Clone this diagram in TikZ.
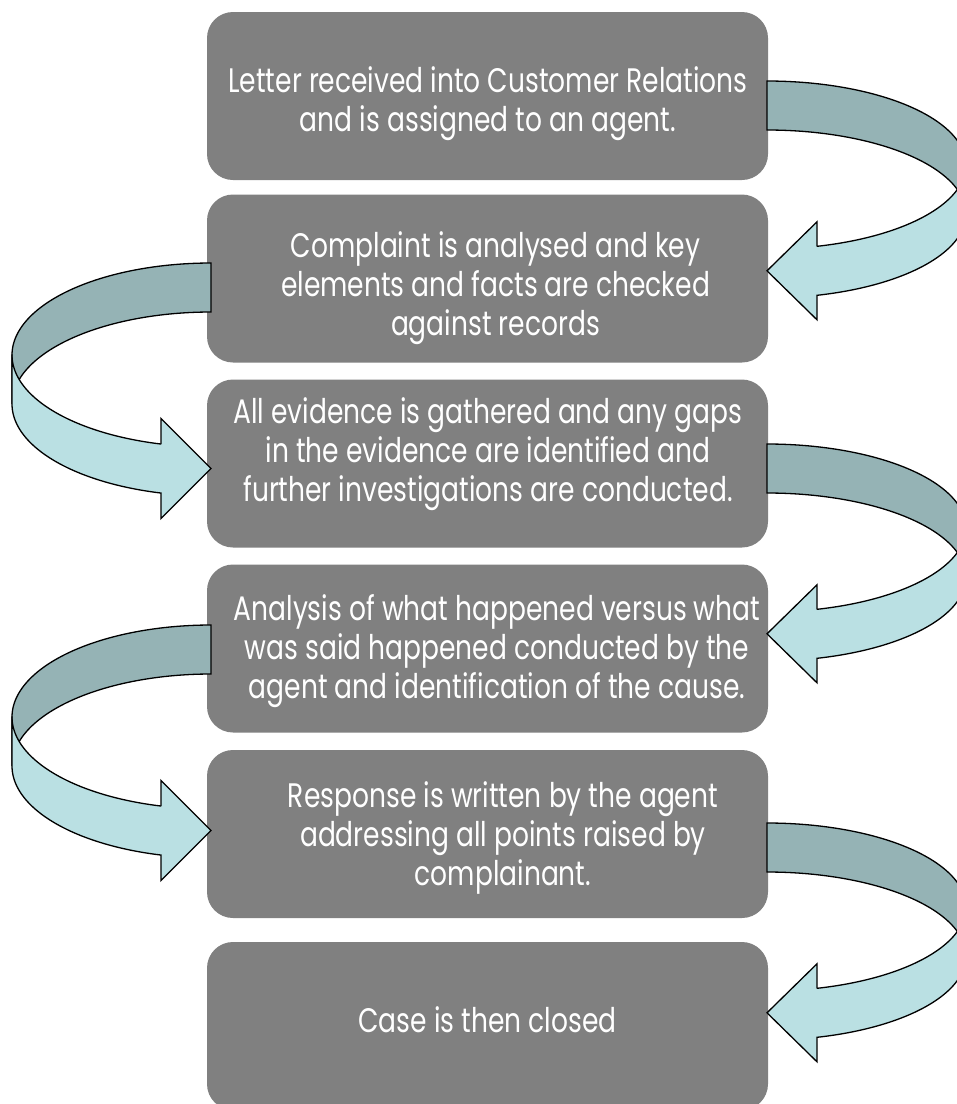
\documentclass[tikz,border=0pt]{standalone}
\usepackage{fontspec}
\setmainfont{Poppins}[FakeStretch=0.78]
\definecolor{boxgray}{HTML}{808080}
\definecolor{banddark}{HTML}{95B3B5}
\definecolor{bandlight}{HTML}{BAE0E3}
\tikzset{
  stepbox/.style={fill=boxgray, rounded corners=26pt, minimum width=561pt, minimum height=168pt, inner sep=0pt, draw=none},
  steptext/.style={text=white, align=center, font=\fontsize{34}{39}\selectfont, inner sep=0pt},
  bandback/.style={draw=black, line width=1.3pt, fill=banddark},
  bandfront/.style={draw=black, line width=1.3pt, fill=bandlight},
}
% #1 cx, #2 cy, #3 direction (1 = bulge right, -1 = bulge left), #4 vertical radius, #5 half head height
\newcommand\CurvedBand[5]{%
  \pgfmathsetmacro\Hh{#4*sin(acos(50/199))}%
  \begin{scope}[shift={(#1,#2)}, xscale=#3]
    \path[bandback] plot[domain=-90:0,samples=60] ({199*cos(\x)},{#4*sin(\x)})
      -- (199,49) -- plot[domain=0:-90,samples=60] ({199*cos(\x)},{49+#4*sin(\x)}) -- cycle;
    \path[bandfront] (199,0) -- (199,49)
      -- plot[domain=0:75.45,samples=60] ({199*cos(\x)},{49+#4*sin(\x)})
      -- (50,{24.5+\Hh+#5}) -- (0,{24.5+\Hh}) -- (50,{24.5+\Hh-#5}) -- (50,\Hh)
      -- plot[domain=75.45:0,samples=60] ({199*cos(\x)},{#4*sin(\x)}) -- cycle;
  \end{scope}}
\begin{document}
\begin{tikzpicture}[x=1pt,y=-1pt]
\useasboundingbox (0,0) rectangle (957,1104);
\clip (0,0) rectangle (957,1104);
\fill[white] (0,0) rectangle (957,1104);
% boxes
\node[stepbox] (b1) at (487.5,96) {};
\node[stepbox] (b2) at (487.5,278.5) {};
\node[stepbox] (b3) at (487.5,463.5) {};
\node[stepbox] (b4) at (487.5,648.5) {};
\node[stepbox] (b5) at (487.5,834) {};
\node[stepbox] (b6) at (487.5,1026) {};
% texts
\node[steptext] (t1) at (488,103.5) {Letter received into Customer Relations\\and is assigned to an agent.};
\node[steptext] (t2) at (495.5,288) {Complaint is analysed and key\\elements and facts are checked\\against records};
\node[steptext] (t3) at (488,454) {All evidence is gathered and any gaps\\in the evidence are identified and\\further investigations are conducted.};
\node[steptext] (t4) at (497,651) {Analysis of what happened versus what\\was said happened conducted by the\\agent and identification of the cause.};
\node[steptext] (t5) at (503,838) {Response is written by the agent\\addressing all points raised by\\complainant.};
\node[steptext] (t6) at (487.5,1020) {Case is then closed};
% curved block arrows
\CurvedBand{767}{165}{1}{84}{49}
\CurvedBand{211}{355}{-1}{92}{50}
\CurvedBand{767}{528}{1}{84}{49}
\CurvedBand{211}{717}{-1}{92}{50}
\CurvedBand{767}{907}{1}{84}{49}
\end{tikzpicture}
\end{document}
